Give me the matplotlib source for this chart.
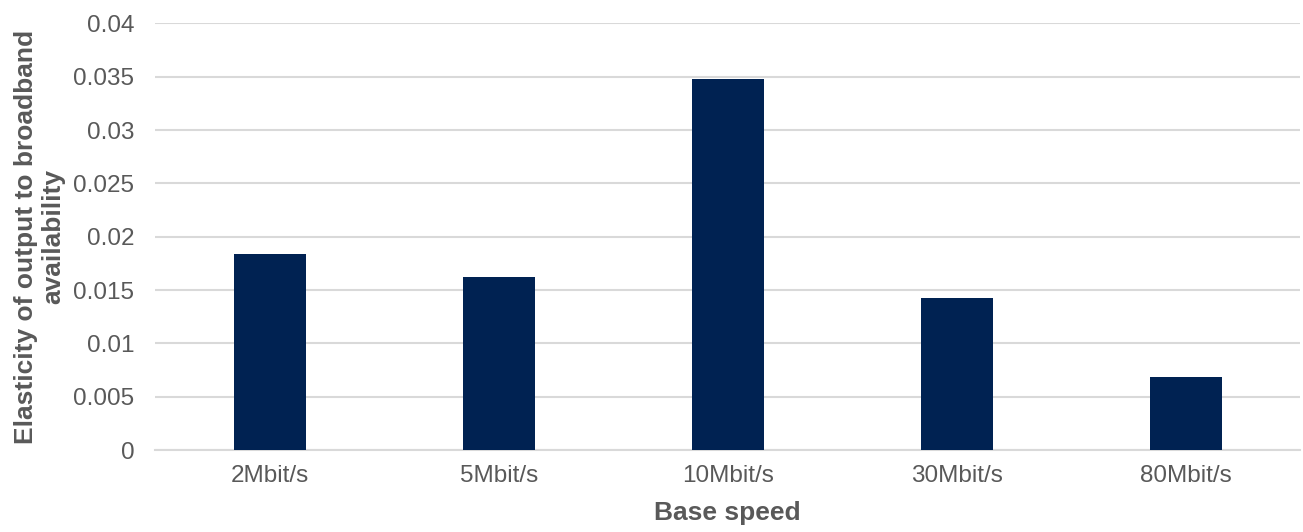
import matplotlib
matplotlib.use("Agg")
import matplotlib.pyplot as plt

categories = ["2Mbit/s", "5Mbit/s", "10Mbit/s", "30Mbit/s", "80Mbit/s"]
elasticity = [0.01838, 0.01622, 0.03479, 0.01425, 0.00685]
y_ticks = [0, 0.005, 0.01, 0.015, 0.02, 0.025, 0.03, 0.035, 0.04]
y_tick_labels = ["0", "0.005", "0.01", "0.015", "0.02", "0.025", "0.03", "0.035", "0.04"]

plt.rcParams["font.family"] = ["Liberation Sans", "DejaVu Sans"]
text_color = "#595959"
grid_color = "#d9d9d9"
bar_color = "#002252"

fig = plt.figure(figsize=(13.03, 5.32), dpi=100)
ax = fig.add_axes([0.119, 0.154, 0.879, 0.802])

x = range(len(categories))
ax.bar(x, elasticity, width=0.314, color=bar_color, zorder=3)

ax.set_xlim(-0.5, len(categories) - 0.5)
ax.set_ylim(0, 0.04)
ax.set_yticks(y_ticks)
ax.set_yticklabels(y_tick_labels)
ax.set_xticks(list(x))
ax.set_xticklabels(categories)

ax.yaxis.grid(True, color=grid_color, linewidth=1.5, zorder=0)
ax.set_axisbelow(True)
for side in ["top", "right", "left"]:
    ax.spines[side].set_visible(False)
ax.spines["bottom"].set_color(grid_color)
ax.spines["bottom"].set_linewidth(1.5)

ax.tick_params(axis="both", length=0, labelsize=17.5, colors=text_color)
ax.tick_params(axis="y", pad=15)
ax.tick_params(axis="x", pad=11)

ax.set_xlabel("Base speed", fontsize=19, fontweight="bold", color=text_color, labelpad=10)
ax.set_ylabel("Elasticity of output to broadband\navailability", fontsize=19,
              fontweight="bold", color=text_color, labelpad=6, linespacing=1.15)

fig.savefig("out.png", dpi=100)
